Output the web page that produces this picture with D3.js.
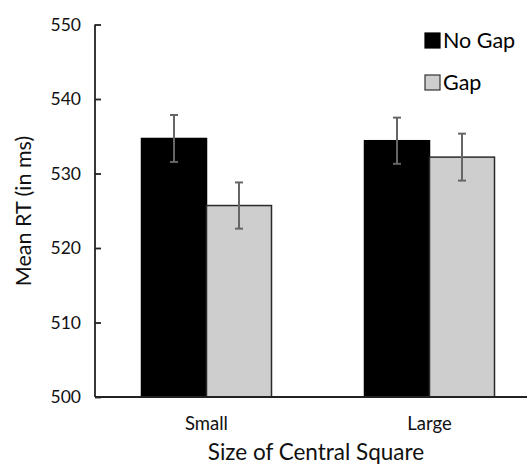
<!DOCTYPE html>
<html>
<head>
<meta charset="utf-8">
<script src="https://cdn.jsdelivr.net/npm/d3@7/dist/d3.min.js"></script>
<style>
  html, body { margin: 0; padding: 0; background: #fff; }
  svg { display: block; font-family: Lato, "Open Sans", sans-serif; }
</style>
</head>
<body>
<svg id="chart" width="527" height="467"></svg>
<script>
const categories = ["Small", "Large"];
const seriesNames = ["No Gap", "Gap"];
const noGapValues = [534.7, 534.4];
const gapValues = [525.7, 532.2];
const noGapErrors = [3.15, 3.1];
const gapErrors = [3.1, 3.15];
const yTicks = [500, 510, 520, 530, 540, 550];
const seriesColors = ["#000000", "#cecece"];

const svg = d3.select("#chart");
const plotLeft = 95, plotRight = 541, plotTop = 24.5, plotBottom = 397;

const y = d3.scaleLinear().domain([500, 550]).range([plotBottom, plotTop]);
const x0 = d3.scaleBand().domain(categories).range([plotLeft, plotRight]).paddingInner(0).paddingOuter(0);
const groupW = 130;
const x1 = d3.scaleBand().domain(seriesNames).range([0, groupW]).padding(0);

const rows = categories.map((c, i) => ({
  cat: c,
  vals: [
    { s: "No Gap", v: noGapValues[i], e: noGapErrors[i], color: seriesColors[0] },
    { s: "Gap", v: gapValues[i], e: gapErrors[i], color: seriesColors[1] }
  ]
}));

const gOff = (x0.bandwidth() - groupW) / 2;

const groups = svg.selectAll("g.grp").data(rows).enter().append("g")
  .attr("transform", d => `translate(${x0(d.cat) + gOff},0)`);

groups.selectAll("rect").data(d => d.vals).enter().append("rect")
  .attr("x", d => x1(d.s))
  .attr("y", d => y(d.v))
  .attr("width", x1.bandwidth())
  .attr("height", d => y(500) - y(d.v))
  .attr("fill", d => d.color)
  .attr("stroke", d => d.s === "Gap" ? "#2a2a2a" : "#000")
  .attr("stroke-width", 1.5);

// error bars
groups.selectAll("g.err").data(d => d.vals).enter().append("g").each(function(d) {
  const g = d3.select(this);
  const cx = x1(d.s) + x1.bandwidth() / 2;
  const c = "#666";
  g.append("line").attr("x1", cx).attr("x2", cx).attr("y1", y(d.v + d.e)).attr("y2", y(d.v - d.e))
    .attr("stroke", c).attr("stroke-width", 2);
  [d.v + d.e, d.v - d.e].forEach(v => {
    g.append("line").attr("x1", cx - 4).attr("x2", cx + 4).attr("y1", y(v)).attr("y2", y(v))
      .attr("stroke", c).attr("stroke-width", 2);
  });
});

// y axis
const yAxis = d3.axisLeft(y).tickValues(yTicks).tickSize(-6).tickPadding(14).tickFormat(d3.format("d"));
const ya = svg.append("g").attr("transform", `translate(${plotLeft},0)`).call(yAxis);
ya.select(".domain").attr("stroke", "#222").attr("stroke-width", 1.8).attr("d", `M0,${plotTop}V${plotBottom}`);
ya.selectAll(".tick line").attr("stroke", "#222").attr("stroke-width", 1.8);
ya.selectAll(".tick text").attr("font-size", 17.5).attr("fill", "#111").attr("font-family", "Lato, sans-serif");

// x axis line
svg.append("line").attr("x1", plotLeft).attr("x2", 527).attr("y1", plotBottom).attr("y2", plotBottom)
  .attr("stroke", "#222").attr("stroke-width", 1.8);

// x labels
svg.selectAll("text.xl").data(categories).enter().append("text")
  .attr("x", d => x0(d) + x0.bandwidth() / 2)
  .attr("y", 430)
  .attr("text-anchor", "middle")
  .attr("font-size", 18.5)
  .attr("fill", "#111")
  .text(d => d);

// axis titles
svg.append("text").attr("x", 316).attr("y", 460).attr("text-anchor", "middle")
  .attr("font-size", 22.5).attr("fill", "#111").text("Size of Central Square");
svg.append("text").attr("transform", "translate(31,211) rotate(-90)").attr("text-anchor", "middle")
  .attr("font-size", 21.5).attr("fill", "#111").text("Mean RT (in ms)");

// legend
const leg = svg.append("g");
seriesNames.forEach((s, i) => {
  const yy = 33 + i * 42;
  leg.append("rect").attr("x", 425).attr("y", yy).attr("width", 15).attr("height", 15)
    .attr("fill", seriesColors[i]).attr("stroke", i === 1 ? "#333" : "#000").attr("stroke-width", 1.2);
  leg.append("text").attr("x", 443).attr("y", yy + 15).attr("font-size", 21.5).attr("fill", "#000").text(s);
});
</script>
</body>
</html>
